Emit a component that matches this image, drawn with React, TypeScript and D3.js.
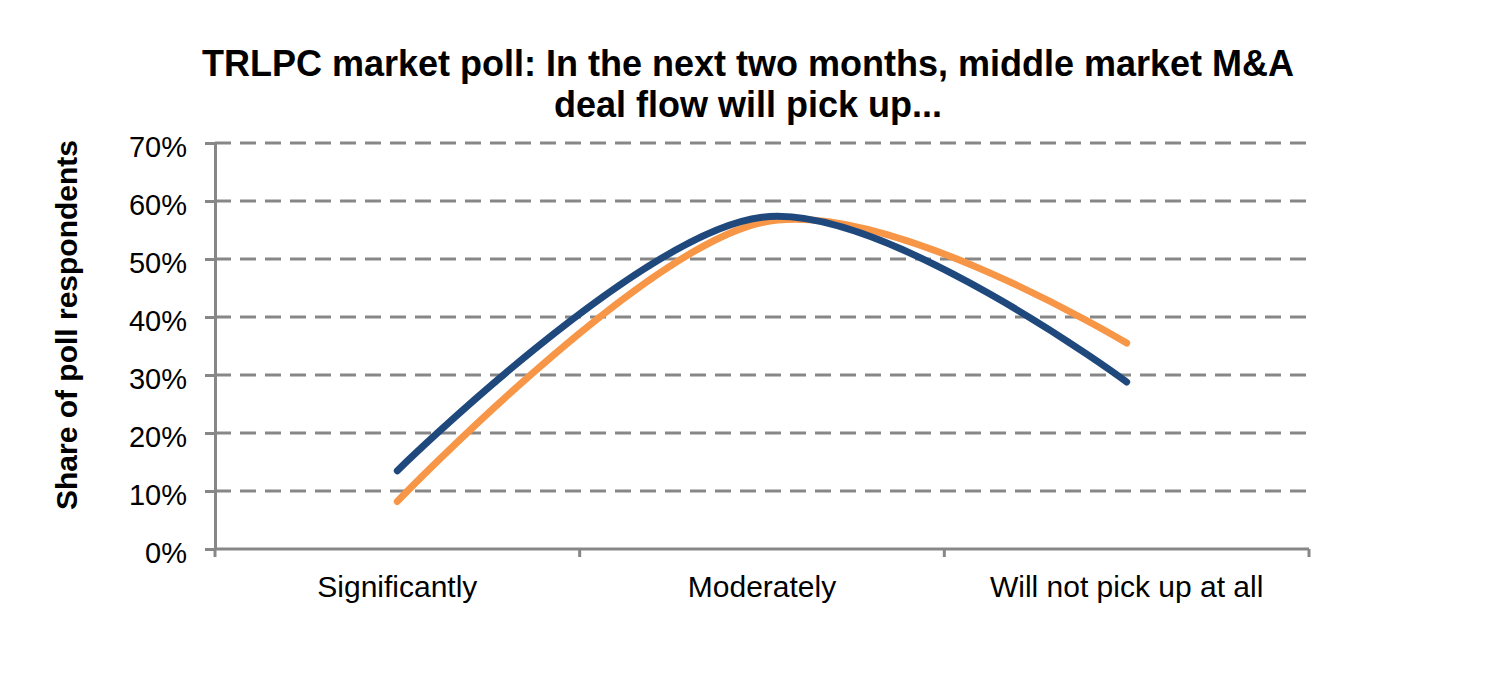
import React, { useRef, useEffect } from 'react';
import * as d3 from 'd3';

const categories = ['Significantly', 'Moderately', 'Will not pick up at all'];
const seriesBlue = [13.5, 57.2, 28.8];
const seriesOrange = [8.2, 56.3, 35.5];
const yTicks = [0, 10, 20, 30, 40, 50, 60, 70];
const titleLines = ['TRLPC market poll: In the next two months, middle market M&A', 'deal flow will pick up...'];
const yLabel = 'Share of poll respondents';

const App: React.FC = () => {
	const svgRef = useRef<SVGSVGElement | null>(null);

	const width = 1498;
	const height = 699;
	const marginLeft = 215;
	const marginRight = 189;
	const marginTop = 143;
	const plotBottom = 549;

	useEffect(() => {
		if (!svgRef.current) return;
		document.body.style.margin = '0';

		const svg = d3.select(svgRef.current)
			.attr('width', width)
			.attr('height', height)
			.attr('viewBox', [0, 0, width, height].join(' '))
			.style('display', 'block')
			.style('background', '#fff')
			.style('font-family', '"Liberation Sans", Arial, sans-serif');

		const x = d3.scaleBand()
			.domain(categories)
			.range([marginLeft, width - marginRight]);

		const y = d3.scaleLinear().domain([0, 70]).range([plotBottom, marginTop]);

		// Grid lines (dashed)
		svg.append('g')
			.selectAll('line')
			.data(yTicks.filter(d => d > 0))
			.join('line')
			.attr('x1', marginLeft)
			.attr('x2', width - marginRight)
			.attr('y1', d => y(d))
			.attr('y2', d => y(d))
			.attr('stroke', '#878787')
			.attr('stroke-width', 3)
			.attr('stroke-dasharray', '16 9');

		// Y axis
		svg.append('g')
			.attr('transform', `translate(${marginLeft},0)`)
			.call(d3.axisLeft(y).tickValues(yTicks).tickSize(10).tickSizeOuter(0).tickFormat(d => `${d}%`))
			.call(g => g.select('.domain').attr('stroke', '#878787').attr('stroke-width', 3))
			.call(g => g.selectAll('.tick line').attr('stroke', '#878787').attr('stroke-width', 3))
			.call(g => g.selectAll('.tick text')
				.attr('x', -28)
				.attr('dy', '0.48em')
				.attr('font-size', 29)
				.attr('fill', '#000')
				.attr('font-family', '"Liberation Sans", Arial, sans-serif'));

		// X axis
		const xTicks = [...categories.map(c => x(c) as number), width - marginRight];
		svg.append('line')
			.attr('x1', marginLeft)
			.attr('x2', width - marginRight)
			.attr('y1', plotBottom)
			.attr('y2', plotBottom)
			.attr('stroke', '#878787')
			.attr('stroke-width', 3);
		svg.append('g')
			.selectAll('line')
			.data(xTicks)
			.join('line')
			.attr('x1', d => d)
			.attr('x2', d => d)
			.attr('y1', plotBottom)
			.attr('y2', plotBottom + 8)
			.attr('stroke', '#878787')
			.attr('stroke-width', 3);
		svg.append('g')
			.selectAll('text')
			.data(categories)
			.join('text')
			.attr('x', d => (x(d) as number) + x.bandwidth() / 2)
			.attr('y', 597)
			.attr('text-anchor', 'middle')
			.attr('font-size', 30)
			.attr('fill', '#000')
			.text(d => d);

		// Lines
		const line = d3.line<number>()
			.x((_, i) => (x(categories[i]) as number) + x.bandwidth() / 2)
			.y(d => y(d))
			.curve(d3.curveCardinal.tension(0));

		svg.append('path')
			.attr('fill', 'none')
			.attr('stroke', '#F79646')
			.attr('stroke-width', 7)
			.attr('stroke-linecap', 'round')
			.attr('d', line(seriesOrange));

		svg.append('path')
			.attr('fill', 'none')
			.attr('stroke', '#1F497D')
			.attr('stroke-width', 7)
			.attr('stroke-linecap', 'round')
			.attr('d', line(seriesBlue));

		// Title
		svg.append('g')
			.selectAll('text')
			.data(titleLines)
			.join('text')
			.attr('x', 748)
			.attr('y', (_, i) => 76 + i * 41)
			.attr('text-anchor', 'middle')
			.attr('font-size', 36)
			.attr('font-weight', 'bold')
			.attr('fill', '#000')
			.text(d => d);

		// Y label
		svg.append('text')
			.attr('transform', `translate(77,325) rotate(-90)`)
			.attr('text-anchor', 'middle')
			.attr('font-size', 30)
			.attr('font-weight', 'bold')
			.attr('fill', '#000')
			.text(yLabel);

		return () => { svg.selectAll('*').remove(); };
	}, []);

	return (<svg ref={svgRef} />);
};

export default App;
